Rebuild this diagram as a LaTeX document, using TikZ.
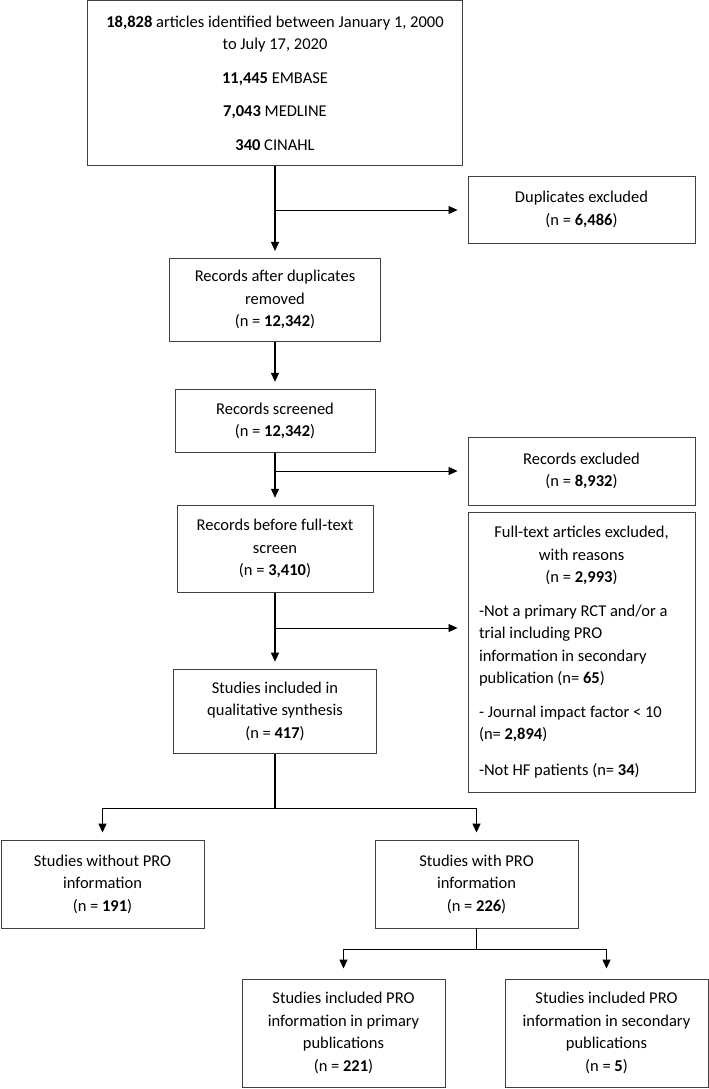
\documentclass[tikz,border=0pt]{standalone}
\usepackage{fontspec}
\setmainfont{Carlito}
\usetikzlibrary{arrows.meta,positioning}

\begin{document}
\begin{tikzpicture}[x=1pt,y=-1pt,
    box/.style={draw=black!75, line width=0.9pt, align=center, inner sep=0pt,
      font=\fontsize{16.5}{22.5}\selectfont},
    trunk/.style={line width=1.3pt, -{Triangle[length=9pt,width=8pt]}, shorten >=7pt},
    side/.style={line width=0.8pt, -{Triangle[length=9pt,width=8pt]}, shorten >=10pt},
    node distance=50pt]
  \useasboundingbox (0,0) rectangle (709,1089);
  % main column
  \node [box, minimum width=375pt, minimum height=165pt] (id) at (275,83)
    {\textbf{18,828} articles identified between January 1, 2000\\
     to July 17, 2020\\[11pt]
     \textbf{11,445} EMBASE\\[11pt]
     \textbf{7,043} MEDLINE\\[11pt]
     \textbf{340} CINAHL};
  \node [box, minimum width=211pt, minimum height=83pt] (recdup) [below=92pt of id]
    {Records after duplicates\\ removed\\ (n = \textbf{12,342})};
  \node [box, minimum width=200pt, minimum height=63pt] (scr) [below=47pt of recdup]
    {Records screened\\ (n = \textbf{12,342})};
  \node [box, minimum width=196pt, minimum height=87pt] (full) [below=52pt of scr]
    {Records before full-text\\ screen\\ (n = \textbf{3,410})};
  \node [box, minimum width=203pt, minimum height=84pt] (qual) [below=76pt of full]
    {Studies included in\\ qualitative synthesis\\ (n = \textbf{417})};
  % excluded
  \node [box, minimum width=227pt, minimum height=67pt] (dup) at (581.5,209.5)
    {Duplicates excluded\\ (n = \textbf{6,486})};
  \node [box, minimum width=227pt, minimum height=68pt] (rex) at (581.5,471)
    {Records excluded\\ (n = \textbf{8,932})};
  \node [box, minimum width=227pt, minimum height=280pt, text width=205pt, align=flush left] (fex) at (581.5,652)
    {{\centering Full-text articles excluded,\\ with reasons\\ (n = \textbf{2,993})\par}
     \vspace{11pt}
     -Not a primary RCT and/or a\\ trial including PRO\\ information in secondary\\
     publication (n= \textbf{65})\\[11pt]
     - Journal impact factor < 10\\ (n= \textbf{2,894})\\[13pt]
     -Not HF patients (n= \textbf{34})};
  % PRO split
  \node [box, minimum width=203pt, minimum height=88pt] (nopro) at (102.5,884)
    {Studies without PRO\\ information\\ (n = \textbf{191})};
  \node [box, minimum width=203pt, minimum height=88pt] (pro) at (476.5,884)
    {Studies with PRO\\ information\\ (n = \textbf{226})};
  \node [box, minimum width=203pt, minimum height=108pt] (prim) at (343.5,1033)
    {Studies included PRO\\ information in primary\\ publications\\ (n = \textbf{221})};
  \node [box, minimum width=203pt, minimum height=108pt] (sec) at (606.5,1033)
    {Studies included PRO\\ information in secondary\\ publications\\ (n = \textbf{5})};

  \coordinate (b1) at (275,210);
  \coordinate (b2) at (275,471);
  \coordinate (b3) at (275,628);

  \path [trunk]
    (id) edge (recdup)
    (recdup) edge (scr)
    (scr) edge (full)
    (full) edge (qual);
  \draw [side] (b1) -- (b1 -| dup.west);
  \draw [side] (b2) -- (b2 -| rex.west);
  \draw [side] (b3) -- (b3 -| fex.west);
  \draw [trunk] (qual.south) -- ++(0,55) -| (nopro);
  \draw [trunk] (qual.south) -- ++(0,55) -| (pro);
  \draw [trunk, shorten >=10pt] (pro.south) -- ++(0,21) -| (prim);
  \draw [trunk, shorten >=10pt] (pro.south) -- ++(0,21) -| (sec);
\end{tikzpicture}
\end{document}
